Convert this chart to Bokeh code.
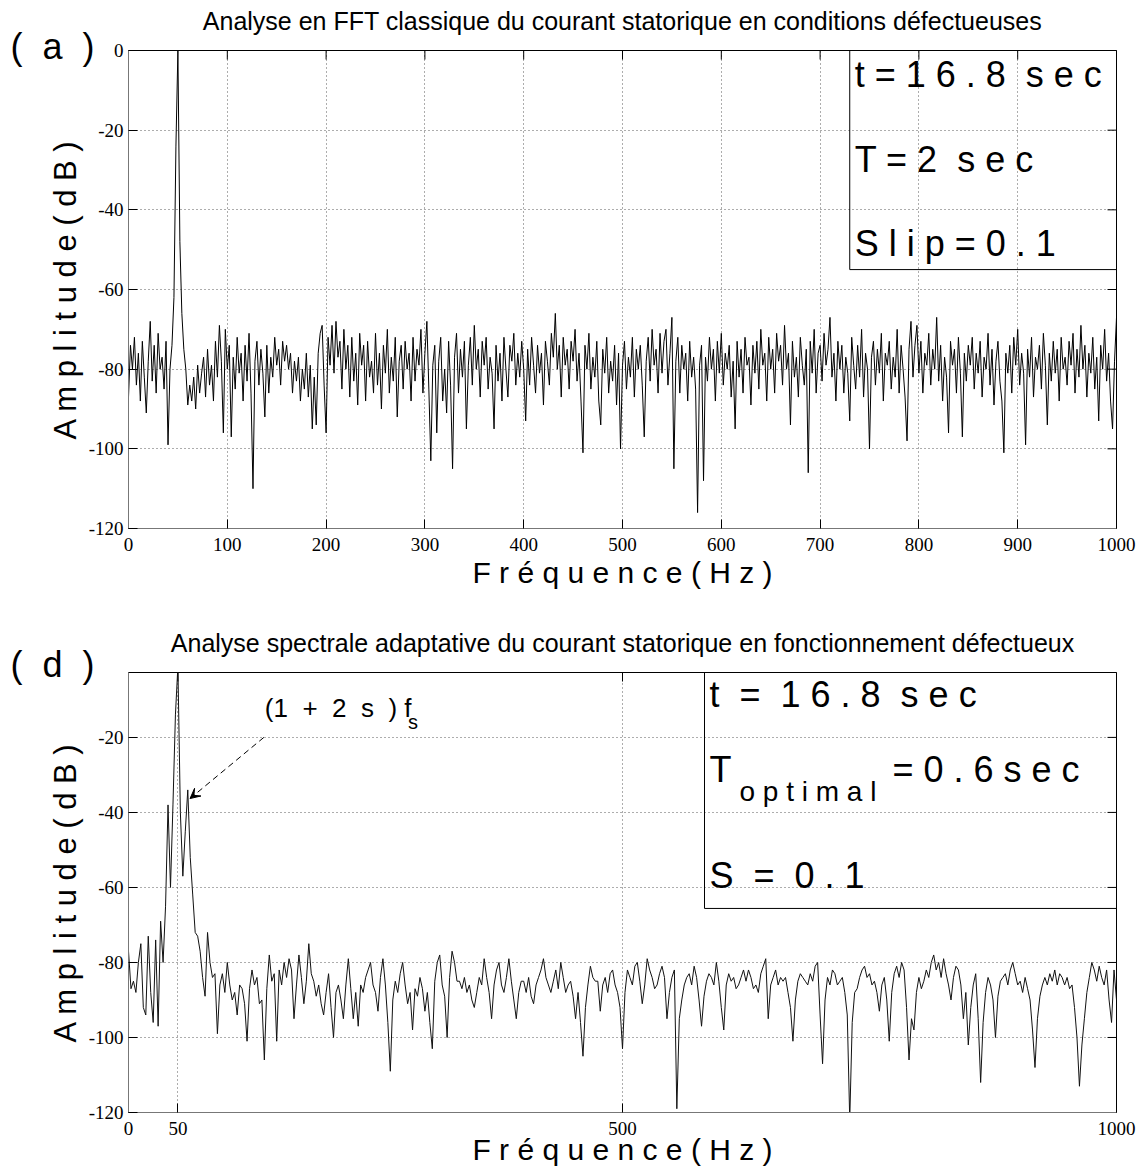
import numpy as np
from bokeh.plotting import figure
from bokeh.models import (Range1d, FixedTicker, Label, BoxAnnotation, Arrow, VeeHead, Title)
from bokeh.layouts import column
from bokeh.embed import file_html
from bokeh.resources import INLINE

# ---------------- data ----------------
# (a) classic FFT spectrum, one value every 2 Hz from 0 to 1000 Hz (dB)
FREQ_STEP_A = 2.0
amp_a = (
    [-87, -74, -80, -72, -84, -76, -88, -73, -82, -91, -78, -68, -83, -74, -86, -71, -80, -77, -85, -73, -99, -80, -74, -62, -24]
    + [0, -48, -66, -75, -80, -89, -84, -88, -82, -90, -79, -86, -81, -77, -87, -75, -84, -79, -88, -73, -82, -69, -78, -96, -70]
    + [-80, -74, -97, -77, -85, -72, -81, -76, -88, -74, -83, -71, -86, -110, -78, -73, -84, -75, -81, -92, -74, -86, -77, -82, -72]
    + [-79, -75, -84, -73, -78, -74, -80, -76, -86, -78, -83, -77, -88, -80, -85, -76, -87, -79, -95, -82, -94, -76, -71, -69, -84]
    + [-96, -72, -79, -69, -81, -68, -77, -73, -85, -70, -80, -74, -87, -72, -83, -76, -89, -71, -79, -74, -88, -73, -82, -78, -86]
    + [-71, -84, -76, -90, -74, -81, -70, -86, -77, -83, -72, -92, -78, -74, -85, -73, -80, -76, -88, -72, -83, -75, -79, -70, -86]
    + [-76, -68, -85, -103, -79, -74, -96, -78, -72, -88, -80, -91, -73, -84, -105, -77, -71, -86, -75, -82, -73, -95, -79, -72, -84]
    + [-69, -80, -75, -87, -73, -79, -72, -85, -77, -81, -95, -74, -83, -76, -88, -72, -80, -87, -74, -78, -71, -84, -76, -82, -73]
    + [-80, -93, -75, -84, -72, -79, -86, -74, -81, -76, -89, -73, -78, -84, -71, -77, -66, -80, -74, -87, -72, -79, -75, -85, -73]
    + [-78, -70, -83, -76, -88, -101, -74, -80, -71, -85, -77, -82, -73, -88, -94, -75, -81, -72, -86, -78, -83, -74, -89, -76, -100]
    + [-79, -73, -85, -77, -82, -72, -87, -75, -80, -74, -84, -97, -78, -72, -83, -70, -79, -75, -86, -71, -81, -73, -70, -84, -76]
    + [-67, -105, -78, -72, -86, -74, -80, -76, -88, -73, -82, -77, -85, -116, -79, -74, -108, -77, -83, -72, -80, -75, -88, -73, -81]
    + [-71, -84, -76, -80, -74, -87, -78, -95, -73, -82, -75, -86, -72, -79, -77, -89, -74, -81, -73, -85, -70, -79, -76, -88, -72]
    + [-80, -75, -86, -71, -78, -74, -84, -69, -80, -76, -94, -73, -82, -77, -87, -72, -79, -84, -75, -106, -73, -81, -70, -86, -76]
    + [-74, -83, -71, -79, -75, -67, -82, -76, -88, -73, -80, -74, -86, -77, -81, -93, -72, -79, -85, -74, -82, -70, -87, -76, -80]
    + [-100, -77, -73, -84, -75, -81, -71, -88, -76, -79, -73, -85, -77, -82, -70, -86, -74, -80, -87, -98, -75, -68, -82, -74, -69]
    + [-81, -73, -86, -76, -79, -71, -84, -75, -80, -67, -83, -74, -88, -77, -82, -96, -73, -79, -75, -86, -72, -81, -97, -76, -83]
    + [-74, -79, -72, -85, -76, -81, -73, -87, -77, -80, -71, -84, -75, -89, -78, -73, -83, -88, -101, -76, -81, -74, -86, -72, -79]
    + [-70, -84, -76, -81, -99, -75, -82, -72, -87, -77, -80, -74, -85, -71, -79, -94, -76, -83, -73, -81, -75, -88, -72, -80, -77]
    + [-84, -73, -79, -71, -86, -75, -82, -69, -80, -74, -87, -76, -81, -72, -85, -77, -93, -74, -80, -70, -83, -76, -88, -95, -78]
    + [-67]
)

# (d) adaptive spectrum, one value every 2.5 Hz from 0 to 1000 Hz (dB)
FREQ_STEP_D = 2.5
amp_d = (
    [-77, -87, -85, -88, -80, -75, -92, -94, -73, -88, -96, -74, -97, -69, -80, -65, -38, -60, -38, -14]
    + [-1, -40, -57, -45, -34, -52, -62, -72, -73, -77, -84, -89, -72, -80, -84, -83, -99, -86, -83, -88]
    + [-80, -86, -90, -88, -94, -86, -87, -91, -101, -87, -82, -86, -84, -91, -90, -106, -87, -78, -85, -83]
    + [-101, -82, -86, -80, -84, -79, -82, -95, -86, -78, -84, -91, -85, -75, -83, -85, -89, -86, -91, -94]
    + [-88, -83, -92, -100, -88, -86, -90, -95, -86, -79, -87, -95, -88, -97, -86, -88, -84, -82, -80, -86]
    + [-88, -93, -84, -79, -86, -96, -109, -90, -85, -88, -83, -80, -86, -91, -88, -98, -87, -89, -84, -87]
    + [-93, -88, -96, -103, -85, -80, -78, -86, -89, -100, -84, -77, -80, -85, -85, -87, -84, -88, -86, -90]
    + [-92, -88, -84, -86, -79, -84, -88, -95, -86, -82, -80, -86, -88, -84, -79, -85, -90, -95, -88, -85]
    + [-85, -88, -84, -89, -91, -86, -84, -82, -79, -84, -86, -88, -85, -82, -87, -80, -84, -88, -86, -85]
    + [-89, -95, -88, -96, -105, -92, -86, -81, -84, -85, -85, -93, -86, -84, -88, -83, -82, -86, -88, -92]
    + [-103, -88, -82, -84, -86, -81, -80, -85, -91, -86, -79, -82, -84, -87, -86, -83, -81, -84, -95, -88]
    + [-84, -82, -119, -95, -90, -86, -84, -83, -86, -81, -84, -90, -97, -89, -85, -83, -84, -86, -80, -85]
    + [-92, -98, -86, -83, -85, -84, -87, -86, -84, -82, -85, -82, -84, -87, -86, -88, -83, -81, -79, -95]
    + [-86, -84, -82, -86, -84, -85, -84, -88, -92, -101, -90, -85, -83, -84, -85, -86, -83, -85, -81, -80]
    + [-94, -107, -90, -84, -86, -82, -83, -86, -85, -84, -88, -94, -122, -96, -88, -87, -84, -82, -81, -84]
    + [-83, -86, -85, -88, -93, -86, -84, -90, -101, -88, -83, -81, -84, -80, -82, -92, -106, -95, -98, -88]
    + [-84, -87, -85, -82, -84, -80, -78, -82, -80, -84, -79, -83, -86, -90, -84, -81, -82, -86, -95, -88]
    + [-102, -92, -86, -83, -95, -112, -96, -88, -84, -86, -90, -100, -89, -85, -84, -83, -86, -82, -80, -83]
    + [-86, -85, -88, -84, -87, -90, -98, -108, -95, -89, -86, -84, -86, -83, -85, -82, -86, -83, -84, -86]
    + [-84, -87, -86, -92, -100, -113, -102, -95, -88, -84, -80, -82, -85, -81, -84, -86, -82, -90, -96, -82]
    + [-90]
)

xticks_a = [0, 100, 200, 300, 400, 500, 600, 700, 800, 900, 1000]
yticks_a = [-120, -100, -80, -60, -40, -20, 0]
xticks_d = [0, 50, 500, 1000]
yticks_d = [-120, -100, -80, -60, -40, -20]

title_a = "Analyse en FFT classique du courant statorique en conditions défectueuses"
title_d = "Analyse spectrale adaptative du courant statorique en fonctionnement défectueux"
ylabel = "A m p l i t u d e ( d B )"
xlabel = "F r é q u e n c e ( H z )"

freq_a = np.arange(len(amp_a)) * FREQ_STEP_A
freq_d = np.arange(len(amp_d)) * FREQ_STEP_D

SANS = "Liberation Sans"
SERIF = "Liberation Serif"
NB = "\u00a0"


def make_fig(height, top_border, bottom_border, y_top, xticks, yticks,
             panel_text, panel_standoff, title_text, title_standoff, xlabel_standoff):
    p = figure(width=1136, height=height, output_backend="svg", toolbar_location=None,
               x_range=Range1d(0, 1000), y_range=Range1d(-120, y_top),
               min_border_left=128, min_border_right=20,
               min_border_top=top_border, min_border_bottom=bottom_border)
    p.background_fill_color = "white"
    p.border_fill_color = "white"
    p.outline_line_color = "black"
    p.outline_line_width = 1

    for ax, ticks in ((p.xaxis, xticks), (p.yaxis, yticks)):
        ax.ticker = FixedTicker(ticks=ticks)
        ax.major_tick_in = 9
        ax.major_tick_out = 0
        ax.minor_tick_line_color = None
        ax.axis_line_color = "#777777"
        ax.major_tick_line_color = "black"
        ax.major_label_text_font = SERIF
        ax.major_label_text_font_size = "19px"
        ax.major_label_text_color = "black"
        ax.axis_label_text_font = SANS
        ax.axis_label_text_font_style = "normal"
        ax.axis_label_text_color = "black"
    p.yaxis.major_label_overrides = {v: str(v) for v in yticks}
    p.yaxis.major_label_standoff = 5
    p.xaxis.major_label_standoff = 9
    p.yaxis.axis_label = ylabel
    p.yaxis.axis_label_text_font_size = "31px"
    p.yaxis.axis_label_standoff = 3
    p.xaxis.axis_label = xlabel
    p.xaxis.axis_label_text_font_size = "30px"
    p.xaxis.axis_label_standoff = xlabel_standoff

    p.xgrid.ticker = FixedTicker(ticks=xticks)
    p.ygrid.ticker = FixedTicker(ticks=yticks)
    for g in (p.xgrid, p.ygrid):
        g.grid_line_color = "#333333"
        g.grid_line_dash = "1 3"
        g.grid_line_alpha = 0.8

    # inward ticks on the right and top borders (half of each dash is clipped by the frame)
    p.scatter([p.x_range.end] * len(yticks), yticks, marker="dash", size=18,
              line_color="black", line_width=1)
    p.scatter(xticks, [y_top] * len(xticks), marker="dash", size=18, angle=np.pi / 2,
              line_color="black", line_width=1)

    # main title (outer row) and panel letter (row next to the frame)
    p.title.text = title_text
    p.title.align = "center"
    p.title.vertical_align = "top"
    p.title.standoff = title_standoff
    p.title.text_font = SANS
    p.title.text_font_size = "25px"
    p.title.text_font_style = "normal"
    p.title.text_color = "black"
    p.add_layout(Title(text=panel_text, align="left", offset=-118, standoff=panel_standoff,
                       text_font=SANS, text_font_size="36px", text_font_style="normal",
                       text_color="black"), "above")
    return p


def lab(p, x, y, text, size, xo=0):
    p.add_layout(Label(x=x, y=y, x_offset=xo, y_offset=round(0.4 * size), text=text,
                       text_align="left", text_baseline="alphabetic",
                       text_font=SANS, text_font_size=f"{size}px", text_color="black"))


# ---------------- (a) ----------------
YTOP_A = 0
pa = make_fig(600, 50, 72, YTOP_A, xticks_a, yticks_a,
              "( " + NB + "a " + NB + ")", -33, title_a, 7, 2)
pa.line(freq_a, amp_a, line_color="black", line_width=1)

pa.add_layout(BoxAnnotation(left=730, right=1000, top=YTOP_A, bottom=-55,
                            fill_alpha=0, line_color="black", line_alpha=1, line_width=1))
lab(pa, 730, -9.5, "t = 1 6 . 8 " + NB + "s e c", 36, xo=5)
lab(pa, 730, -30.9, "T = 2 " + NB + "s e c", 36, xo=5)
lab(pa, 730, -52, "S l i p = 0 . 1", 36, xo=5)

# ---------------- (d) ----------------
YTOP_D = -2.7
pd_ = make_fig(570, 72, 58, YTOP_D, xticks_d, yticks_d,
               "( " + NB + "d " + NB + ")", -25, title_d, -9, -5)
pd_.line(freq_d, amp_d, line_color="#111111", line_width=1)

pd_.add_layout(BoxAnnotation(left=583, right=1000, top=YTOP_D, bottom=-65.6,
                             fill_alpha=0, line_color="black", line_alpha=1, line_width=1))
lab(pd_, 583, -12.3, "t " + NB + "= " + NB + "1 6 . 8 " + NB + "s e c", 36, xo=5)
lab(pd_, 583, -32.3, "T", 36, xo=5)
lab(pd_, 583, -37.3, "o p t i m a l", 28, xo=35)
lab(pd_, 583, -32.3, "= 0 . 6 s e c", 36, xo=188)
lab(pd_, 583, -60.5, "S " + NB + "= " + NB + "0 . 1", 36, xo=5)

lab(pd_, 138, -14.9, "(1 " + NB + "+ " + NB + "2 " + NB + "s " + NB + ") f", 26)
lab(pd_, 283, -18.1, "s", 20)
pd_.add_layout(Arrow(end=VeeHead(size=10, fill_color="black", line_color="black"),
                     x_start=137, y_start=-20, x_end=62.3, y_end=-36.3,
                     line_color="black", line_width=1, line_dash="6 4"))

layout = column(pa, pd_)
open("out.html", "w").write(file_html(layout, INLINE))
